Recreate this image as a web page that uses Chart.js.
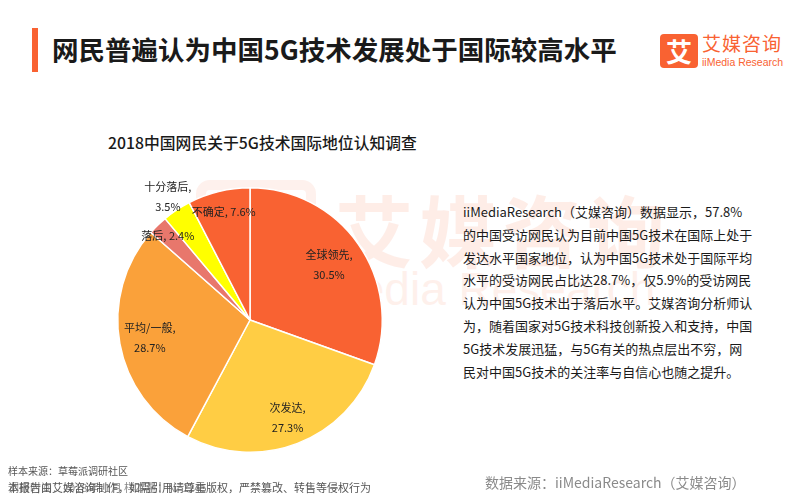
<!DOCTYPE html>
<html>
<head>
<meta charset="utf-8">
<script src="https://cdn.jsdelivr.net/npm/chart.js"></script>
<style>
  body { margin: 0; width: 800px; height: 500px; background: #fff; position: relative; overflow: hidden;
         font-family: "Noto Sans CJK SC", "Noto Sans", sans-serif; color: #222; }
  .abs { position: absolute; white-space: nowrap; }
  #bar { left: 32px; top: 28px; width: 6px; height: 44px; background: #F96232; }
  #title { left: 52px; top: 29px; font-size: 26.5px; font-weight: bold; line-height: 40px; color: #1a1a1a; }
  #logo { left: 660px; top: 34px; width: 38px; height: 34px; background: #F96232; border-radius: 4px;
          color: #fff; font-size: 26px; font-weight: bold; line-height: 34px; text-align: center; }
  #logoCn { left: 702px; top: 31px; font-size: 19px; color: #F96232; line-height: 24px; letter-spacing: 1px; }
  #logoEn { left: 702px; top: 56px; font-size: 10.5px; color: #F96232; font-family: "Liberation Sans", sans-serif; }
  #sub { left: 108px; top: 131px; font-size: 15.8px; font-weight: 500; color: #1a1a1a; }
  #wm1 { left: 335px; top: 172px; font-size: 78px; color: #F96232; opacity: 0.11; font-weight: bold; letter-spacing: 6px; }
  #wm2 { left: 300px; top: 262px; font-size: 46px; color: #F96232; opacity: 0.09; font-family: "Liberation Sans", sans-serif; }
  #wmBox { left: 196px; top: 180px; width: 100px; height: 80px; border: 10px solid #F96232; opacity: 0.09; border-radius: 14px; }
  #text { left: 463px; top: 201px; font-size: 13px; line-height: 22.8px; color: #1a1a1a; }
  #chartBox { left: 100px; top: 170px; width: 300px; height: 300px; }
  .foot { color: #555; }
  #src { left: 485px; top: 472px; font-size: 14px; color: #8a8a8a; }
</style>
</head>
<body>
<div id="wmBox" class="abs"></div>
<div id="wm1" class="abs">艾媒咨询</div>
<div id="wm2" class="abs">iiMedia Research</div>
<div id="bar" class="abs"></div>
<div id="title" class="abs">网民普遍认为中国5G技术发展处于国际较高水平</div>
<div id="logo" class="abs">艾</div>
<div id="logoCn" class="abs">艾媒咨询</div>
<div id="logoEn" class="abs">iiMedia Research</div>
<div id="sub" class="abs">2018中国网民关于5G技术国际地位认知调查</div>
<div id="text" class="abs">iiMediaResearch（艾媒咨询）数据显示，57.8%<br>的中国受访网民认为目前中国5G技术在国际上处于<br>发达水平国家地位，认为中国5G技术处于国际平均<br>水平的受访网民占比达28.7%，仅5.9%的受访网民<br>认为中国5G技术出于落后水平。艾媒咨询分析师认<br>为，随着国家对5G技术科技创新投入和支持，中国<br>5G技术发展迅猛，与5G有关的热点层出不穷，网<br>民对中国5G技术的关注率与自信心也随之提升。</div>
<div id="chartBox" class="abs"><canvas id="pie"></canvas></div>
<div class="abs foot" style="left:8px; top:463px; font-size:10px;">样本来源：草莓派调研社区</div>
<div class="abs foot" style="left:8px; top:479px; font-size:11px;">本报告由艾媒咨询制作，如需引用请尊重版权，严禁篡改、转售等侵权行为</div>
<div class="abs foot" style="left:8px; top:479px; font-size:11px; opacity:0.7;">调研时间：2018年11月 样本量：N=1245</div>
<div id="src" class="abs">数据来源：iiMediaResearch（艾媒咨询）</div>
<script>
const categories = ['全球领先', '次发达', '平均/一般', '落后', '十分落后', '不确定'];
const shares = [30.5, 27.3, 28.7, 2.4, 3.5, 7.6];
const sliceColors = ['#F96232', '#FFCD44', '#FAA13A', '#E8776C', '#FFFF00', '#F96232'];
// label placement: radius fraction, two lines or one
const labelRadius = [0.73, 0.79, 0.77, 0.89, 1.12, 0.84];
const twoLine = [true, true, true, false, true, false];

const pieLabels = {
  id: 'pieLabels',
  afterDatasetsDraw(chart) {
    const ctx = chart.ctx;
    const arcs = chart.getDatasetMeta(0).data;
    ctx.save();
    ctx.font = '11px "Noto Sans CJK SC", sans-serif';
    ctx.fillStyle = '#222';
    ctx.textAlign = 'center';
    ctx.textBaseline = 'middle';
    arcs.forEach((arc, i) => {
      const mid = (arc.startAngle + arc.endAngle) / 2;
      const r = arc.outerRadius * labelRadius[i];
      const x = arc.x + Math.cos(mid) * r;
      const y = arc.y + Math.sin(mid) * r;
      if (twoLine[i]) {
        ctx.fillText(categories[i] + ',', x, y - 10);
        ctx.fillText(shares[i].toFixed(1) + '%', x, y + 10);
      } else {
        ctx.fillText(categories[i] + ', ' + shares[i].toFixed(1) + '%', x, y);
      }
    });
    ctx.restore();
  }
};

new Chart(document.getElementById('pie'), {
  type: 'pie',
  data: {
    labels: categories,
    datasets: [{
      data: shares,
      backgroundColor: sliceColors,
      borderColor: '#fff',
      borderWidth: 1.5
    }]
  },
  options: {
    responsive: true,
    maintainAspectRatio: false,
    animation: false,
    layout: { padding: 17 },
    plugins: {
      legend: { display: false },
      tooltip: { enabled: false }
    }
  },
  plugins: [pieLabels]
});
</script>
</body>
</html>
